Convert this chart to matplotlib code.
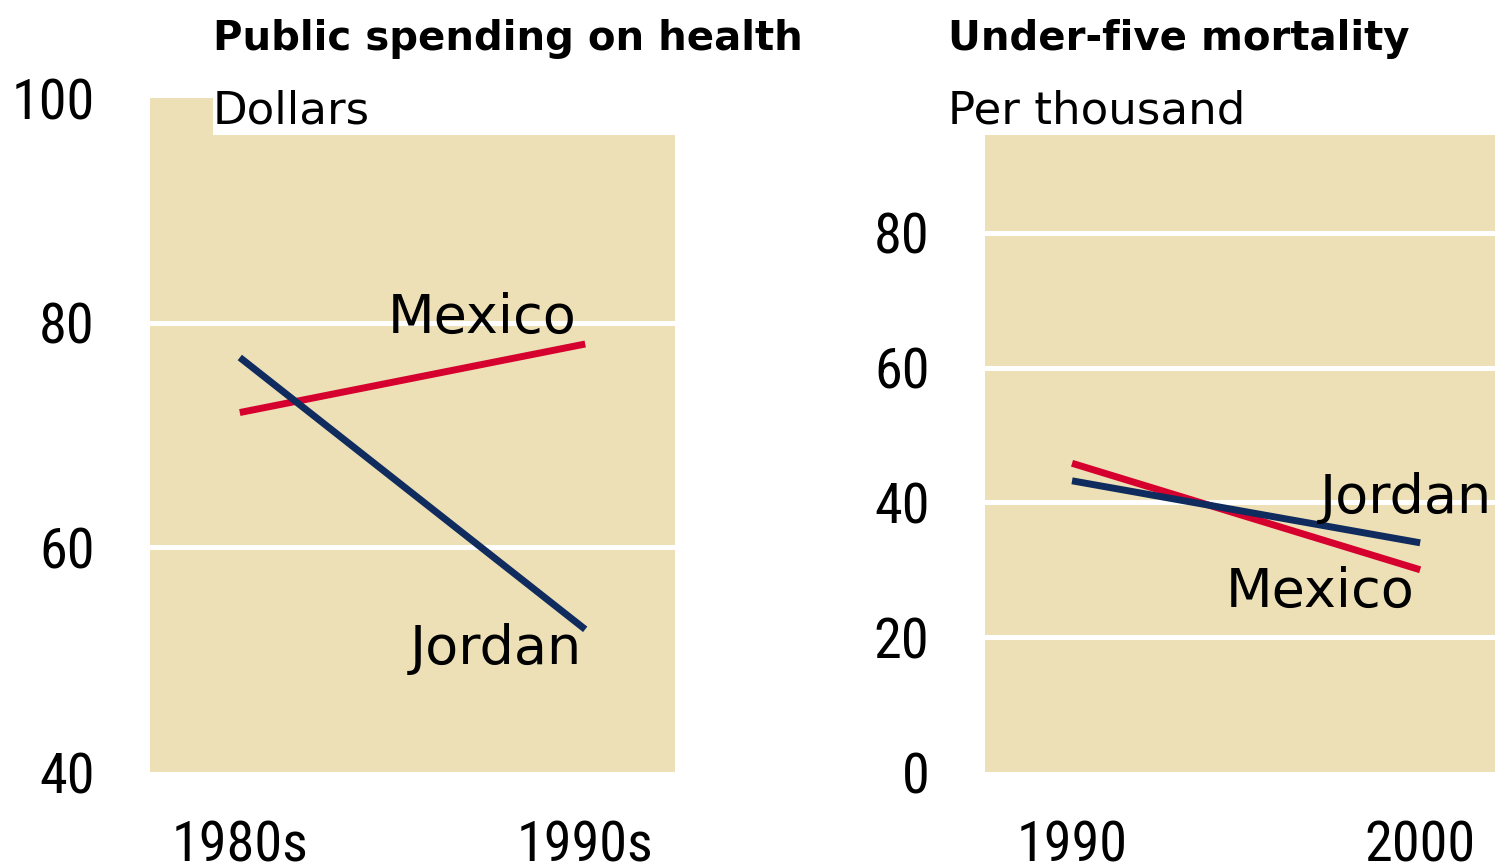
import matplotlib
matplotlib.use("Agg")
import matplotlib.pyplot as plt
from matplotlib import font_manager as fm
from matplotlib.patches import Rectangle

# --- Datos ---
spend_periods = ["1980s", "1990s"]
spend_mexico = [72.0, 78.1]
spend_jordan = [76.9, 52.7]
spend_yticks = [40, 60, 80, 100]

mort_years = [1990, 2000]
mort_mexico = [45.8, 30.0]
mort_jordan = [43.2, 34.0]
mort_yticks = [0, 20, 40, 60, 80]

# --- Estilo ---
BEIGE = "#ede0b6"
RED = "#d6002f"
NAVY = "#102c5e"

# cifras en fuente condensada, textos en DejaVu (mas ancha, como el original)
installed = {f.name for f in fm.fontManager.ttflist}
wanted = ["Roboto Condensed", "Archivo Narrow", "PT Sans Narrow", "Liberation Sans Narrow"]
NUMFONT = [f for f in wanted if f in installed][:1] + ["DejaVu Sans"]
TXTFONT = ["DejaVu Sans"]
plt.rcParams["font.family"] = NUMFONT

W, H = 1495, 867
fig = plt.figure(figsize=(W / 100, H / 100), dpi=100)
fig.patch.set_facecolor("white")


def px_axes(x0, y_top, x1, y_bot):
    return fig.add_axes([x0 / W, (H - y_bot) / H, (x1 - x0) / W, (y_bot - y_top) / H])


def style(ax, yticks, ylim):
    ax.set_facecolor(BEIGE)
    for s in ax.spines.values():
        s.set_visible(False)
    ax.set_ylim(*ylim)
    ax.set_yticks(yticks)
    ax.set_yticklabels([str(t) for t in yticks])
    ax.tick_params(axis="y", length=0, pad=40, labelsize=40.5)
    ax.tick_params(axis="x", length=0, pad=34, labelsize=40.5)
    for t in yticks:
        if ylim[0] < t < ylim[1]:
            ax.axhline(t, color="white", lw=3.6, zorder=1)


def label(ax, x, y, s):
    ax.text(x, y, s, ha="right", va="baseline", fontsize=39, family=TXTFONT, zorder=4)


# ---------- Panel izquierdo ----------
ax1 = px_axes(150, 98, 675, 772)
style(ax1, spend_yticks, (40, 100))
xs = range(len(spend_periods))
ax1.set_xlim(-0.26, 1.26)
ax1.set_xticks(list(xs))
ax1.set_xticklabels(spend_periods)
ax1.plot(xs, spend_mexico, color=RED, lw=5, solid_capstyle="butt", zorder=3)
ax1.plot(xs, spend_jordan, color=NAVY, lw=5, solid_capstyle="butt", zorder=3)
label(ax1, 0.975, 79.1, "Mexico")
label(ax1, 0.99, 49.6, "Jordan")
# hueco blanco bajo el subtitulo
ax1.add_patch(Rectangle((0.12, 0.945), 0.88, 0.06, transform=ax1.transAxes,
                        facecolor="white", edgecolor="none", clip_on=False, zorder=5))
fig.text(213 / W, 1 - 50 / H, "Public spending on health", ha="left", va="baseline",
         fontsize=29, fontweight="bold", family=TXTFONT)
fig.text(213 / W, 1 - 123 / H, "Dollars", ha="left", va="baseline", fontsize=32.5,
         family=TXTFONT, zorder=6)

# ---------- Panel derecho ----------
ax2 = px_axes(985, 135, 1495, 772)
style(ax2, mort_yticks, (0, 94.5))
ax2.set_xlim(1987.5, 2002.15)
ax2.set_xticks(mort_years)
ax2.set_xticklabels([str(y) for y in mort_years])
ax2.plot(mort_years, mort_mexico, color=RED, lw=5, solid_capstyle="butt", zorder=3)
ax2.plot(mort_years, mort_jordan, color=NAVY, lw=5, solid_capstyle="butt", zorder=3)
label(ax2, 2002.05, 38.4, "Jordan")
label(ax2, 1999.85, 24.5, "Mexico")
fig.text(948 / W, 1 - 50 / H, "Under-five mortality", ha="left", va="baseline",
         fontsize=29, fontweight="bold", family=TXTFONT)
fig.text(948 / W, 1 - 123 / H, "Per thousand", ha="left", va="baseline", fontsize=32.5,
         family=TXTFONT)

fig.savefig("out.png", dpi=100, facecolor="white")
